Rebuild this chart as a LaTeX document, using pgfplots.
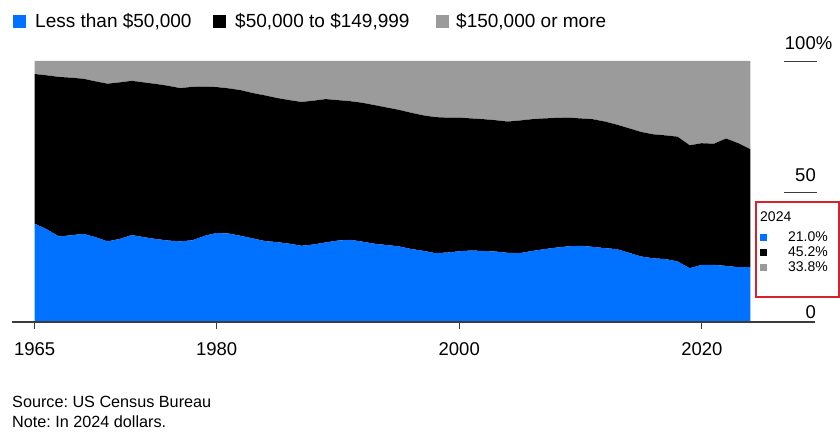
\documentclass[border=0pt]{standalone}
\usepackage{pgfplots}
\pgfplotsset{compat=1.18}
\usepackage{pgfplotstable}
\usepackage{fontspec}
\setmainfont{Liberation Sans}
\frenchspacing
\definecolor{cblue}{RGB}{0,114,255}
\definecolor{cgray}{RGB}{155,155,155}
\definecolor{caxis}{RGB}{60,60,60}
\definecolor{cred}{RGB}{215,35,45}

\pgfplotstableread{
year low mid high
1965 37.7 57.3 5.0
1966 35.5 59.0 5.5
1967 32.8 61.1 6.1
1968 33.2 60.4 6.4
1969 33.8 59.4 6.8
1970 32.5 59.7 7.8
1971 30.9 60.4 8.7
1972 31.8 60.0 8.2
1973 33.3 59.1 7.6
1974 32.5 59.3 8.2
1975 31.8 59.4 8.8
1976 31.2 59.3 9.5
1977 30.9 58.7 10.4
1978 31.3 58.8 9.9
1979 33.0 57.2 9.8
1980 34.1 55.9 10.0
1981 33.9 55.6 10.5
1982 33.0 55.8 11.2
1983 32.0 55.7 12.3
1984 31.0 55.8 13.2
1985 30.6 55.2 14.2
1986 30.0 55.0 15.0
1987 29.2 55.1 15.7
1988 29.7 55.1 15.2
1989 30.5 54.9 14.6
1990 31.2 53.8 15.0
1991 31.5 53.1 15.4
1992 30.8 53.2 16.0
1993 30.0 53.1 16.9
1994 29.5 52.7 17.8
1995 29.0 52.3 18.7
1996 28.0 52.2 19.8
1997 27.3 51.9 20.8
1998 26.4 52.1 21.5
1999 26.6 51.7 21.7
2000 27.1 51.2 21.7
2001 27.4 50.6 22.0
2002 27.2 50.5 22.3
2003 27.0 50.3 22.7
2004 26.5 50.3 23.2
2005 26.4 50.8 22.8
2006 27.2 50.5 22.3
2007 27.9 50.1 22.0
2008 28.5 49.7 21.8
2009 29.0 49.3 21.7
2010 29.2 48.8 22.0
2011 28.8 48.9 22.3
2012 28.3 48.5 23.2
2013 27.9 47.7 24.4
2014 26.5 47.7 25.8
2015 25.1 47.7 27.2
2016 24.4 47.5 28.1
2017 24.1 47.4 28.5
2018 23.2 47.8 29.0
2019 20.6 47.1 32.3
2020 21.9 46.6 31.5
2021 21.9 46.4 31.7
2022 21.5 48.8 29.7
2023 21.0 47.5 31.5
2024 21.0 45.2 33.8
}\data

\begin{document}
\begin{tikzpicture}
\useasboundingbox (0pt,0pt) rectangle (840pt,437pt);
\begin{axis}[
  at={(12pt,115pt)}, anchor=south west,
  scale only axis, width=803pt, height=261pt,
  xmin=1963.13, xmax=2029.33, ymin=0, ymax=100,
  stack plots=y,
  axis y line=none,
  axis x line*=bottom,
  x axis line style={caxis, line width=1.5pt, -},
  axis on top=true,
  xtick={1965,1980,2000,2020},
  xticklabels={1965,1980,2000,2020},
  xtick align=outside,
  major tick length=7pt,
  tick style={caxis, line width=1pt},
  xticklabel style={font=\fontsize{18.5}{22}\selectfont, text=black, yshift=-10pt},
  ytick=\empty,
  clip=false,
]
\addplot[fill=cblue, draw=none] table[x=year, y=low]{\data} \closedcycle;
\addplot[fill=black, draw=none] table[x=year, y=mid]{\data} \closedcycle;
\addplot[fill=cgray, draw=none] table[x=year, y=high]{\data} \closedcycle;
\end{axis}

\begin{scope}[x=1pt,y=1pt]
% y labels on the right
\begin{scope}[font=\fontsize{18.5}{22}\selectfont]
\node[anchor=base east, inner sep=0] at (816,387) {100\rlap{\%}};
\node[anchor=base east, inner sep=0] at (816,255) {50};
\node[anchor=base east, inner sep=0] at (816,119) {0};
\end{scope}
\draw[caxis, line width=1pt] (784,375) -- (817,375);
\draw[caxis, line width=1pt] (784,244) -- (817,244);

% top legend
\begin{scope}[font=\fontsize{19}{23}\selectfont]
\fill[cblue] (13,408.5) rectangle (26,421.5);
\node[anchor=base west, inner sep=0] at (35,409) {Less than \$50,000};
\fill[black] (213,408.5) rectangle (226,421.5);
\node[anchor=base west, inner sep=0] at (235,409) {\$50,000 to \$149,999};
\fill[cgray] (436,408.5) rectangle (449,421.5);
\node[anchor=base west, inner sep=0] at (456,409) {\$150,000 or more};
\end{scope}

% 2024 box
\draw[cred, line width=2pt] (755.5,235) rectangle (838.5,140);
\begin{scope}[font=\fontsize{14}{17}\selectfont]
\node[anchor=base west, inner sep=0] at (760,215) {2024};
\fill[cblue] (760,196.5) rectangle (767,203.5);
\node[anchor=base east, inner sep=0] at (828,195.5) {21.0\%};
\fill[black] (760,181.5) rectangle (767,188.5);
\node[anchor=base east, inner sep=0] at (828,180.5) {45.2\%};
\fill[cgray] (760,166.5) rectangle (767,173.5);
\node[anchor=base east, inner sep=0] at (828,165.5) {33.8\%};
\end{scope}

% footnotes
\begin{scope}[font=\fontsize{16.2}{19}\selectfont]
\node[anchor=base west, inner sep=0] at (12,30) {Source: US Census Bureau};
\node[anchor=base west, inner sep=0] at (12,10) {Note: In 2024 dollars.};
\end{scope}
\end{scope}
\end{tikzpicture}
\end{document}
